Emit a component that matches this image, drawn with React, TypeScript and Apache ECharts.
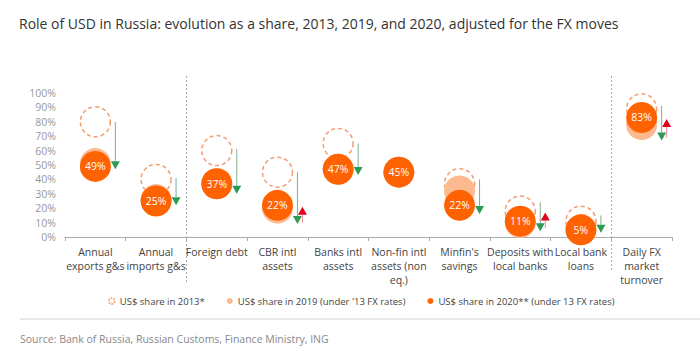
import React, { useEffect, useRef } from "react";
import * as echarts from "echarts";

const categories = [
  "Annual\nexports g&s",
  "Annual\nimports g&s",
  "Foreign debt",
  "CBR intl\nassets",
  "Banks intl\nassets",
  "Non-fin intl\nassets (non\neq.)",
  "Minfin's\nsavings",
  "Deposits with\nlocal banks",
  "Local bank\nloans",
  "Daily FX\nmarket\nturnover",
];
const share2013: (number | string)[] = [80, 40, 60, 45, 65, "-", 37, 18, 11, 89];
const share2019: number[] = [51, 26, 37, 20, 47, 45, 32, 10, 5, 78];
const share2020: number[] = [49, 25, 37, 22, 47, 45, 22, 11, 5, 83];
// green arrows: [category index, from, to]
const greenArrows: number[][] = [
  [0, 80, 47],
  [1, 41, 22],
  [2, 61, 30],
  [3, 45, 9],
  [4, 65, 43],
  [6, 40, 16],
  [7, 24, 4],
  [8, 15, 3],
  [9, 91, 67],
];
// red arrows: [category index, from, to]
const redArrows: number[][] = [
  [3, 10, 21],
  [7, 6, 17],
  [9, 69, 82],
];
const yTicks = [0, 10, 20, 30, 40, 50, 60, 70, 80, 90, 100];
const separatorsAfter = [1, 8];
const legendNames = [
  "US$ share in 2013*",
  "US$ share in 2019 (under '13 FX rates)",
  "US$ share in 2020** (under 13 FX rates)",
];

const ORANGE = "#FF6200";
const LIGHT = "#FDB98F";
const DASH = "#F0854A";
const GREEN = "#2E9A58";
const RED = "#E3001B";

function arrowRender(color: string, shaft: string, dx: number) {
  return (params: any, api: any) => {
    const i = api.value(0);
    const a = api.coord([i, api.value(1)]);
    const b = api.coord([i, api.value(2)]);
    const x = a[0] + dx;
    const dir = b[1] > a[1] ? 1 : -1;
    const h = 8;
    const w = 4.5;
    const baseY = b[1] - dir * h;
    return {
      type: "group",
      children: [
        {
          type: "line",
          shape: { x1: x, y1: a[1], x2: x, y2: baseY },
          style: { stroke: shaft, lineWidth: 1 },
        },
        {
          type: "polygon",
          shape: {
            points: [
              [x - w, baseY],
              [x + w, baseY],
              [x, b[1]],
            ],
          },
          style: { fill: color },
        },
      ],
    };
  };
}

export default function App() {
  const ref = useRef<HTMLDivElement>(null);
  useEffect(() => {
    if (!ref.current) return;
    const chart = echarts.init(ref.current, null, { renderer: "svg" });
    const font = "'Open Sans', 'Noto Sans', sans-serif";
    const legendText = { fontSize: 9.5, color: "#444", fontFamily: font };
    chart.setOption({
      animation: false,
      textStyle: { fontFamily: font },
      title: {
        text: "Role of USD in Russia: evolution as a share, 2013, 2019, and 2020, adjusted for the FX moves",
        left: 14,
        top: 11,
        textStyle: { fontSize: 14, fontWeight: 500, color: "#333", fontFamily: font },
      },
      legend: {
        top: 291,
        left: 103,
        itemWidth: 6,
        itemHeight: 6,
        itemGap: 22,
        textStyle: legendText,
        data: [
          {
            name: legendNames[0],
            icon: "circle",
            textStyle: legendText,
            itemStyle: { color: "rgba(0,0,0,0)", borderColor: DASH, borderWidth: 1.5, borderType: [2, 1] },
          },
          { name: legendNames[1], icon: "circle", textStyle: legendText },
          { name: legendNames[2], icon: "circle", textStyle: legendText },
        ],
      },
      grid: { left: 65, right: 28, top: 93, bottom: 116 },
      xAxis: {
        type: "category",
        data: categories,
        boundaryGap: true,
        axisLine: { lineStyle: { color: "#aaa" } },
        axisTick: { show: true, length: 4, lineStyle: { color: "#aaa" } },
        axisLabel: {
          interval: 0,
          fontSize: 10.5,
          color: "#444",
          lineHeight: 14,
          margin: 8,
          fontFamily: font,
        },
      },
      yAxis: {
        type: "value",
        min: 0,
        max: 100,
        interval: 10,
        splitLine: { show: false },
        axisLine: { show: false },
        axisTick: { show: false },
        axisLabel: {
          color: "#999",
          fontSize: 10.5,
          margin: 9,
          fontFamily: font,
          formatter: (v: number) => (yTicks.includes(v) ? v + "%" : ""),
        },
      },
      series: [
        {
          name: legendNames[0],
          type: "scatter",
          data: share2013,
          symbolSize: 30,
          z: 1,
          itemStyle: {
            color: "rgba(255,255,255,0)",
            borderColor: DASH,
            borderWidth: 1.5,
            borderType: [4, 3],
          },
        },
        {
          name: legendNames[1],
          type: "scatter",
          data: share2019,
          symbolSize: 31,
          z: 2,
          itemStyle: { color: LIGHT, opacity: 1 },
        },
        {
          name: legendNames[2],
          type: "scatter",
          data: share2020,
          symbolSize: 31,
          z: 3,
          itemStyle: { color: ORANGE, opacity: 1 },
          label: {
            show: true,
            position: "inside",
            formatter: (p: any) => p.value + "%",
            color: "#fff",
            fontSize: 10.5,
            fontFamily: font,
          },
        },
        {
          type: "custom",
          name: "green",
          data: greenArrows,
          z: 4,
          renderItem: arrowRender(GREEN, "#7FB08E", 20),
          encode: { x: 0, y: [1, 2] },
          silent: true,
        },
        {
          type: "custom",
          name: "red",
          data: redArrows,
          z: 4,
          renderItem: arrowRender(RED, "#F08A95", 25),
          encode: { x: 0, y: [1, 2] },
          silent: true,
        },
      ],
    });

    const x0 = chart.convertToPixel({ xAxisIndex: 0 }, 0) as number;
    const x1 = chart.convertToPixel({ xAxisIndex: 0 }, 1) as number;
    const step = x1 - x0;
    const seps = separatorsAfter.map((i) => {
      const x = Math.round((chart.convertToPixel({ xAxisIndex: 0 }, i) as number) + step / 2) + 0.5;
      return {
        type: "line",
        shape: { x1: x, y1: 76, x2: x, y2: i === 1 ? 282 : 272 },
        style: { stroke: "#aaa", lineWidth: 1, lineDash: [2, 2] },
        silent: true,
      };
    });
    chart.setOption({
      graphic: [
        ...seps,
        {
          type: "line",
          shape: { x1: 20, y1: 319, x2: 700, y2: 319 },
          style: { stroke: "#e2e2e2", lineWidth: 1.5 },
        },
        {
          type: "text",
          x: 20,
          y: 333,
          style: {
            text: "Source: Bank of Russia, Russian Customs, Finance Ministry, ING",
            fontSize: 10.5,
            fill: "#888",
            fontFamily: font,
          },
        },
      ],
    });
    return () => chart.dispose();
  }, []);
  return <div ref={ref} style={{ width: 700, height: 353, position: "absolute", left: 0, top: 0 }} />;
}
